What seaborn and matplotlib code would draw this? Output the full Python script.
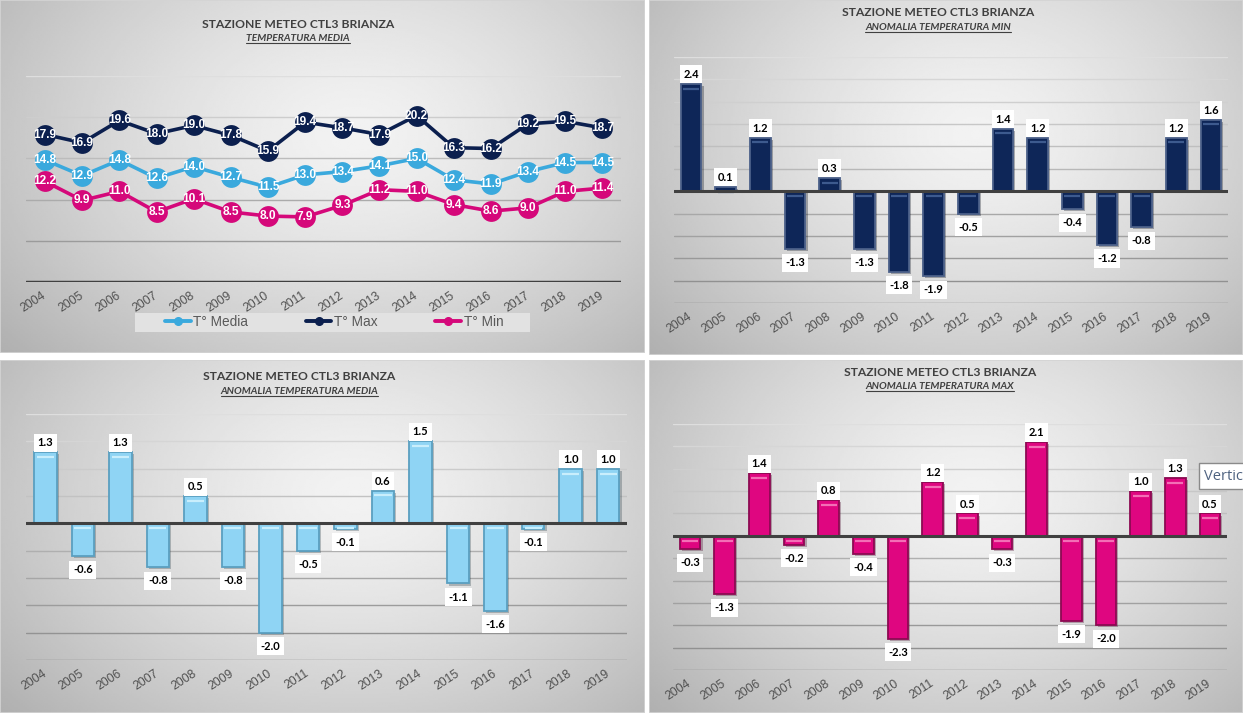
import numpy as np
import pandas as pd
import matplotlib
matplotlib.use("Agg")
import matplotlib.pyplot as plt
import matplotlib.patheffects as pe
import matplotlib.transforms as mtransforms
from matplotlib import font_manager
from matplotlib.lines import Line2D
from matplotlib.patches import Rectangle
import seaborn as sns

# dati
anni = [str(a) for a in range(2004, 2020)]
t_media = [14.8, 12.9, 14.8, 12.6, 14.0, 12.7, 11.5, 13.0, 13.4, 14.1, 15.0, 12.4, 11.9, 13.4, 14.5, 14.5]
t_max = [17.9, 16.9, 19.6, 18.0, 19.0, 17.8, 15.9, 19.4, 18.7, 17.9, 20.2, 16.3, 16.2, 19.2, 19.5, 18.7]
t_min = [12.2, 9.9, 11.0, 8.5, 10.1, 8.5, 8.0, 7.9, 9.3, 11.2, 11.0, 9.4, 8.6, 9.0, 11.0, 11.4]
anom_min = [2.4, 0.1, 1.2, -1.3, 0.3, -1.3, -1.8, -1.9, -0.5, 1.4, 1.2, -0.4, -1.2, -0.8, 1.2, 1.6]
anom_media = [1.3, -0.6, 1.3, -0.8, 0.5, -0.8, -2.0, -0.5, -0.1, 0.6, 1.5, -1.1, -1.6, -0.1, 1.0, 1.0]
anom_max = [-0.3, -1.3, 1.4, -0.2, 0.8, -0.4, -2.3, 1.2, 0.5, -0.3, 2.1, -1.9, -2.0, 1.0, 1.3, 0.5]

W, H = 1243, 713


def font_ok(nome):
    try:
        font_manager.findfont(nome, fallback_to_default=False)
        return True
    except ValueError:
        return False


NARROW = "Liberation Sans Narrow" if font_ok("Liberation Sans Narrow") else "Liberation Sans"
TITOLO = "Lato"
ASSE = "Liberation Sans"

sns.set_theme(style="white")
plt.rcParams["font.family"] = ["Liberation Sans", "DejaVu Sans"]

fig = plt.figure(figsize=(W / 100, H / 100), dpi=100, facecolor="white")


def rect(x, y, w, h):
    return [x / W, 1 - (y + h) / H, w / W, h / H]


def sfondo(x, y, w, h):
    bg = fig.add_axes(rect(x, y, w, h), zorder=0)
    yy, xx = np.mgrid[0:1:200j, 0:1:300j]
    r = np.sqrt(((xx - 0.55) / 0.6) ** 2 + ((yy - 0.38) / 0.78) ** 2)
    val = 0.95 - 0.2 * np.clip(r, 0, 1.4) ** 1.4
    bg.imshow(val, cmap="gray", vmin=0, vmax=1, aspect="auto", interpolation="bilinear")
    bg.set_axis_off()
    bg.add_patch(Rectangle((0, 0), 1, 1, transform=bg.transAxes, fill=False, ec="#d4d4d4", lw=1.2))


def griglia(ax, ticks):
    lo, hi = ax.get_ylim()
    for t in ticks:
        f = (hi - t) / (hi - lo)
        c = 0.87 - 0.33 * f
        ax.axhline(t, color=(c, c, c), lw=1, zorder=0.5)


def assi(ax):
    ax.set_facecolor("none")
    for s in ax.spines.values():
        s.set_visible(False)
    ax.set_xlim(-0.5, 15.5)
    ax.set_yticks([])
    ax.set_ylabel("")
    ax.set_xlabel("")
    ax.set_xticks(range(16))
    ax.set_xticklabels(anni, rotation=33, ha="right", va="center", rotation_mode="anchor",
                       fontsize=8.8, color="#505050", family=ASSE)
    ax.tick_params(axis="x", length=0, pad=9)
    ax.tick_params(axis="y", length=0)


def titoli(xc, y1, y2, sotto):
    fig.text(xc / W, 1 - y1 / H, "STAZIONE METEO CTL3 BRIANZA", ha="center", va="center",
             fontsize=8.7, fontweight="bold", color="#404040", family=TITOLO)
    t = fig.text(xc / W, 1 - y2 / H, sotto, ha="center", va="center", fontsize=7.4,
                 fontweight="bold", style="italic", color="#404040", family=TITOLO)
    return t


def barre(ax, vals, colore, bordo, luce, ylim, passo):
    ax.set_ylim(*ylim)
    sns.barplot(x=anni, y=vals, color=colore, saturation=1, width=0.6,
                edgecolor=bordo, linewidth=1.3, ax=ax, zorder=2)
    giu = mtransforms.ScaledTranslation(0, -3.5 / 72, fig.dpi_scale_trans)
    for p in ax.patches:
        p.set_path_effects([pe.SimplePatchShadow(offset=(1.5, -1.5), alpha=0.3), pe.Normal()])
        x0, w = p.get_x(), p.get_width()
        cima = max(p.get_y(), p.get_y() + p.get_height())
        ax.plot([x0 + 0.12 * w, x0 + 0.88 * w], [cima, cima], color=luce, lw=1.6,
                solid_capstyle="butt", transform=ax.transData + giu, zorder=3)
    griglia(ax, np.arange(ylim[0], ylim[1] + 0.01, passo))
    ax.axhline(0, color="#404040", lw=2.2, zorder=4)
    for i, v in enumerate(vals):
        off = 6.8 if v >= 0 else -9.8
        ax.annotate(f"{v:.1f}", (i, v), xytext=(0, off), textcoords="offset points",
                    ha="center", va="center", fontsize=8, fontweight="bold", color="black",
                    family=TITOLO, zorder=5,
                    bbox=dict(boxstyle="square,pad=0.32", fc="white", ec="none"))
    ax.set_ylim(*ylim)
    assi(ax)


# pannelli di sfondo
sfondo(0, 0, 645, 353)
sfondo(649, 0, 594, 355)
sfondo(0, 360, 645, 353)
sfondo(649, 360, 594, 353)

# 1. Temperatura media, max, min
ax1 = fig.add_axes(rect(26.5, 76, 594.5, 206), zorder=1)
ax1.set_ylim(0, 25)
griglia(ax1, [5, 10, 15, 20, 25])
df_t = pd.DataFrame({
    "Anno": anni * 3,
    "Temp": t_media + t_max + t_min,
    "Serie": ["T° Media"] * 16 + ["T° Max"] * 16 + ["T° Min"] * 16,
})
colori = {"T° Media": "#3aa9dd", "T° Max": "#0b1f4e", "T° Min": "#d5087a"}
sns.lineplot(data=df_t, x="Anno", y="Temp", hue="Serie", palette=colori, marker="o",
             markersize=15, markeredgewidth=0, linewidth=2.6, sort=False, legend=False, ax=ax1)
for vals in [t_max, t_media, t_min]:
    for i, v in enumerate(vals):
        ax1.text(i, v, f"{v:.1f}", ha="center", va="center", color="white", fontsize=8.6,
                 fontweight="bold", family=NARROW, zorder=5)
ax1.axhline(0, color="#404040", lw=2.5, zorder=4)
ax1.set_ylim(0, 25)
assi(ax1)

fig.patches.append(Rectangle((135 / W, 1 - 332 / H), 395 / W, 19 / H, transform=fig.transFigure,
                             fc="#e2e2e2", ec="none", zorder=1.5))
maniglie = [Line2D([0], [0], color=colori[k], lw=2.8, marker="o", markersize=5.5) for k in colori]
fig.legend(maniglie, list(colori), loc="center", bbox_to_anchor=(334 / W, 1 - 322 / H), ncol=3,
           frameon=False, handlelength=1.9, handletextpad=0.2, columnspacing=4.2,
           labelcolor="#595959", prop={"family": ASSE, "size": 9.8})

# 2. Anomalia min
ax2 = fig.add_axes(rect(673.7, 57, 554.6, 246), zorder=1)
barre(ax2, anom_min, "#0e2658", "#4b6089", "#3d5a8e", (-2.5, 3.0), 0.5)

# 3. Anomalia media
ax3 = fig.add_axes(rect(26.5, 414, 600.5, 246), zorder=1)
barre(ax3, anom_media, "#8fd4f4", "#5a9fc0", "#c9eefc", (-2.5, 2.0), 0.5)

# 4. Anomalia max
ax4 = fig.add_axes(rect(672.7, 424, 554.6, 246), zorder=1)
barre(ax4, anom_max, "#df0680", "#8c0a52", "#f36fb6", (-3.0, 2.5), 0.5)

# titoli
sotto = [
    titoli(298, 25, 38.5, "TEMPERATURA MEDIA"),
    titoli(938, 13, 27.5, "ANOMALIA TEMPERATURA MIN"),
    titoli(299.5, 377, 391.5, "ANOMALIA TEMPERATURA MEDIA"),
    titoli(940, 372, 387, "ANOMALIA TEMPERATURA MAX"),
]

# tooltip rimasto nella schermata
fig.text(1204 / W, 1 - 476 / H, "Vertic", ha="left", va="center", fontsize=10.5, color="#4e6280",
         family="Open Sans", zorder=10,
         bbox=dict(boxstyle="square,pad=0.35", fc="white", ec="#8a8a8a", lw=1))

# sottolineatura dei sottotitoli
fig.canvas.draw()
rend = fig.canvas.get_renderer()
inv = fig.transFigure.inverted()
for t in sotto:
    bb = t.get_window_extent(rend)
    (x0, y0), (x1, _) = inv.transform([(bb.x0, bb.y0 + 0.5), (bb.x1, bb.y0)])
    fig.add_artist(Line2D([x0, x1], [y0, y0], transform=fig.transFigure, color="#404040", lw=0.8, zorder=10))

fig.savefig("out.png", dpi=100, facecolor="white")
